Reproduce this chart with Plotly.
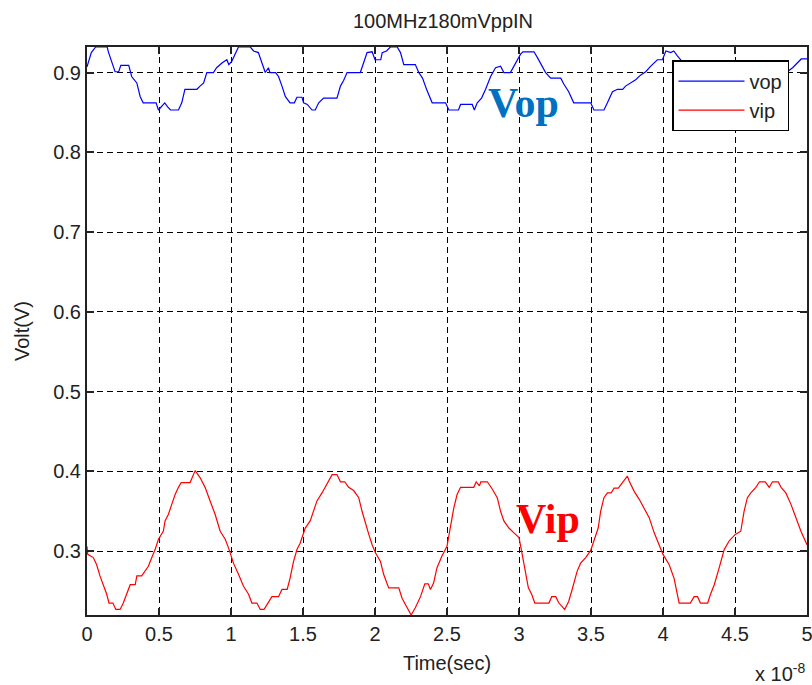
import plotly.graph_objects as go

# time in units of 1e-8 s
t_vop = [0.0, 0.03, 0.06, 0.14, 0.15, 0.172, 0.195, 0.22, 0.235, 0.29, 0.31, 0.346, 0.369, 0.39, 0.48,
         0.496, 0.515, 0.54, 0.56, 0.58, 0.635, 0.658, 0.68, 0.763, 0.785, 0.81, 0.832, 0.878, 0.90,
         0.937, 0.971, 0.985, 1.005, 1.03, 1.052, 1.134, 1.157, 1.19, 1.215, 1.238, 1.26, 1.27, 1.31,
         1.33, 1.354, 1.377, 1.41, 1.44, 1.458, 1.493, 1.504, 1.53, 1.563, 1.585, 1.609, 1.643, 1.736,
         1.76, 1.782, 1.806, 1.898, 1.92, 1.945, 1.98, 2.0, 2.04, 2.05, 2.08, 2.107, 2.154, 2.177, 2.2,
         2.28, 2.304, 2.33, 2.36, 2.397, 2.49, 2.513, 2.58, 2.594, 2.675, 2.69, 2.71, 2.74, 2.768,
         2.803, 2.837, 2.872, 2.895, 2.94, 2.965, 2.988, 3.011, 3.027, 3.104, 3.127, 3.162, 3.185,
         3.22, 3.29, 3.31, 3.345, 3.38, 3.498, 3.52, 3.59, 3.614, 3.649, 3.684, 3.72, 3.74, 3.77,
         3.81, 3.846, 3.88, 3.915, 3.961, 3.996, 4.02, 4.054, 4.075, 4.1, 4.15, 4.22, 4.3, 4.38,
         4.48, 4.52, 4.6, 4.66, 4.74, 4.82, 4.9, 4.96, 5.0]
v_vop = [0.907, 0.925, 0.932, 0.932, 0.925, 0.912, 0.901, 0.901, 0.909, 0.909, 0.895, 0.887, 0.870,
         0.862, 0.862, 0.853, 0.857, 0.862, 0.857, 0.853, 0.853, 0.862, 0.879, 0.879, 0.883, 0.887,
         0.900, 0.900, 0.906, 0.912, 0.916, 0.910, 0.914, 0.923, 0.932, 0.932, 0.927, 0.925, 0.912,
         0.900, 0.906, 0.900, 0.900, 0.895, 0.883, 0.870, 0.862, 0.862, 0.869, 0.869, 0.862, 0.860,
         0.853, 0.853, 0.862, 0.868, 0.868, 0.883, 0.890, 0.900, 0.900, 0.912, 0.925, 0.926, 0.916,
         0.916, 0.925, 0.927, 0.932, 0.932, 0.925, 0.910, 0.910, 0.900, 0.893, 0.878, 0.862, 0.862,
         0.853, 0.853, 0.860, 0.860, 0.853, 0.862, 0.868, 0.879, 0.895, 0.906, 0.908, 0.900, 0.900,
         0.908, 0.916, 0.923, 0.926, 0.926, 0.919, 0.908, 0.900, 0.893, 0.893, 0.886, 0.876, 0.862,
         0.862, 0.853, 0.853, 0.862, 0.876, 0.879, 0.879, 0.883, 0.886, 0.891, 0.897, 0.901, 0.908,
         0.916, 0.916, 0.927, 0.925, 0.927, 0.921, 0.910, 0.900, 0.885, 0.862, 0.862, 0.853, 0.853,
         0.865, 0.879, 0.895, 0.906, 0.917, 0.917]

t_vip = [0.0, 0.005, 0.044, 0.067, 0.09, 0.113, 0.137, 0.153, 0.18, 0.2, 0.23, 0.252, 0.276, 0.3,
         0.335, 0.346, 0.38, 0.403, 0.426, 0.45, 0.473, 0.496, 0.53, 0.542, 0.565, 0.589, 0.612,
         0.635, 0.654, 0.716, 0.732, 0.751, 0.786, 0.82, 0.855, 0.89, 0.925, 0.96, 0.987, 1.017,
         1.052, 1.087, 1.122, 1.145, 1.18, 1.203, 1.23, 1.257, 1.284, 1.33, 1.354, 1.39, 1.41, 1.434,
         1.458, 1.48, 1.516, 1.55, 1.574, 1.597, 1.632, 1.667, 1.702, 1.736, 1.76, 1.79, 1.817,
         1.852, 1.887, 1.91, 1.933, 1.957, 1.98, 2.003, 2.038, 2.06, 2.095, 2.165, 2.188, 2.223,
         2.251, 2.28, 2.316, 2.346, 2.37, 2.385, 2.407, 2.43, 2.465, 2.5, 2.524, 2.547, 2.57, 2.594,
         2.686, 2.703, 2.725, 2.735, 2.78, 2.814, 2.849, 2.872, 2.895, 2.93, 2.965, 3.0, 3.018,
         3.041, 3.065, 3.088, 3.11, 3.208, 3.227, 3.255, 3.277, 3.317, 3.345, 3.369, 3.404, 3.428,
         3.463, 3.498, 3.52, 3.55, 3.567, 3.59, 3.614, 3.64, 3.66, 3.69, 3.718, 3.753, 3.765, 3.8,
         3.835, 3.87, 3.904, 3.939, 3.974, 4.0, 4.043, 4.077, 4.112, 4.19, 4.216, 4.24, 4.26, 4.31,
         4.33, 4.356, 4.39, 4.425, 4.46, 4.502, 4.54, 4.563, 4.586, 4.61, 4.645, 4.67, 4.71, 4.738,
         4.76, 4.8, 4.82, 4.853, 4.888, 4.923, 4.958, 5.0]
v_vip = [0.306, 0.296, 0.292, 0.283, 0.269, 0.258, 0.246, 0.235, 0.235, 0.227, 0.227, 0.235, 0.246,
         0.258, 0.258, 0.269, 0.269, 0.275, 0.281, 0.292, 0.302, 0.315, 0.325, 0.338, 0.346, 0.359,
         0.371, 0.380, 0.386, 0.386, 0.394, 0.401, 0.392, 0.380, 0.363, 0.346, 0.325, 0.315, 0.302,
         0.285, 0.271, 0.256, 0.246, 0.235, 0.235, 0.227, 0.227, 0.235, 0.243, 0.243, 0.252, 0.252,
         0.266, 0.287, 0.302, 0.310, 0.329, 0.338, 0.350, 0.363, 0.373, 0.384, 0.396, 0.396, 0.387,
         0.387, 0.380, 0.376, 0.367, 0.350, 0.334, 0.321, 0.308, 0.298, 0.287, 0.271, 0.254, 0.254,
         0.241, 0.229, 0.220, 0.229, 0.243, 0.259, 0.259, 0.252, 0.260, 0.279, 0.294, 0.306, 0.331,
         0.354, 0.371, 0.380, 0.380, 0.387, 0.382, 0.387, 0.387, 0.378, 0.367, 0.350, 0.338, 0.329,
         0.323, 0.317, 0.300, 0.279, 0.254, 0.246, 0.235, 0.235, 0.243, 0.243, 0.235, 0.227, 0.237,
         0.252, 0.275, 0.285, 0.292, 0.301, 0.313, 0.329, 0.350, 0.367, 0.373, 0.373, 0.379, 0.379,
         0.386, 0.394, 0.388, 0.375, 0.365, 0.354, 0.342, 0.323, 0.308, 0.296, 0.283, 0.266, 0.235,
         0.235, 0.243, 0.243, 0.235, 0.235, 0.246, 0.258, 0.279, 0.302, 0.313, 0.321, 0.325, 0.350,
         0.367, 0.373, 0.380, 0.387, 0.387, 0.380, 0.387, 0.387, 0.380, 0.373, 0.359, 0.342, 0.325,
         0.308]

x_ticks = [0, 0.5, 1, 1.5, 2, 2.5, 3, 3.5, 4, 4.5, 5]
x_ticklabels = ["0", "0.5", "1", "1.5", "2", "2.5", "3", "3.5", "4", "4.5", "5"]
y_ticks = [0.3, 0.4, 0.5, 0.6, 0.7, 0.8, 0.9]
y_ticklabels = ["0.3", "0.4", "0.5", "0.6", "0.7", "0.8", "0.9"]

FONT = "Liberation Sans, Arial, sans-serif"
SERIF = "Liberation Serif, Times New Roman, serif"

fig = go.Figure()
fig.add_trace(go.Scatter(x=t_vop, y=v_vop, mode="lines", name="vop",
                         line=dict(color="#0000FF", width=1.2)))
fig.add_trace(go.Scatter(x=t_vip, y=v_vip, mode="lines", name="vip",
                         line=dict(color="#FF0000", width=1.2)))

axis_common = dict(showline=True, linecolor="#222222", linewidth=2, mirror="allticks",
                   ticks="inside", ticklen=7, tickcolor="#222222", tickwidth=1.5,
                   showgrid=True, gridcolor="#000000", gridwidth=1, griddash="6px,4px",
                   zeroline=False, automargin=False, ticklabeloverflow="allow",
                   tickfont=dict(family=FONT, size=20, color="#222222"))

fig.update_xaxes(range=[0, 5], tickmode="array", tickvals=x_ticks, ticktext=x_ticklabels,
                 title=dict(text="Time(sec)", font=dict(family=FONT, size=20, color="#222222"),
                            standoff=12),
                 **axis_common)
fig.update_yaxes(range=[min(v_vip), max(v_vop)], tickmode="array", tickvals=y_ticks,
                 ticktext=y_ticklabels,
                 title=dict(text="Volt(V)", font=dict(family=FONT, size=20, color="#222222"),
                            standoff=18),
                 **axis_common)

fig.update_layout(
    width=812, height=685,
    margin=dict(l=87, r=5, t=47, b=70),
    paper_bgcolor="white", plot_bgcolor="white",
    title=dict(text="100MHz180mVppIN", x=443 / 812, xanchor="center", y=1 - 21 / 685,
               yanchor="middle", font=dict(family=FONT, size=20, color="#222222")),
    legend=dict(x=0.8125, y=0.977, xanchor="left", yanchor="top", bgcolor="white",
                bordercolor="#000000", borderwidth=1.5, itemwidth=66,
                font=dict(family=FONT, size=20, color="#222222")),
    showlegend=True,
)

fig.add_annotation(x=3.03, y=0.862, xref="x", yref="y", text="<b>Vop</b>", showarrow=False,
                   font=dict(family=SERIF, size=42, color="#0070C0"))
fig.add_annotation(x=3.2, y=0.34, xref="x", yref="y", text="<b>Vip</b>", showarrow=False,
                   font=dict(family=SERIF, size=42, color="#FF0000"))
fig.add_annotation(x=1.0, y=-0.126, xref="paper", yref="paper", xanchor="right", yanchor="bottom",
                   text="x 10<sup>-8</sup>", showarrow=False,
                   font=dict(family=FONT, size=20, color="#222222"))

fig.write_html("out.html")
